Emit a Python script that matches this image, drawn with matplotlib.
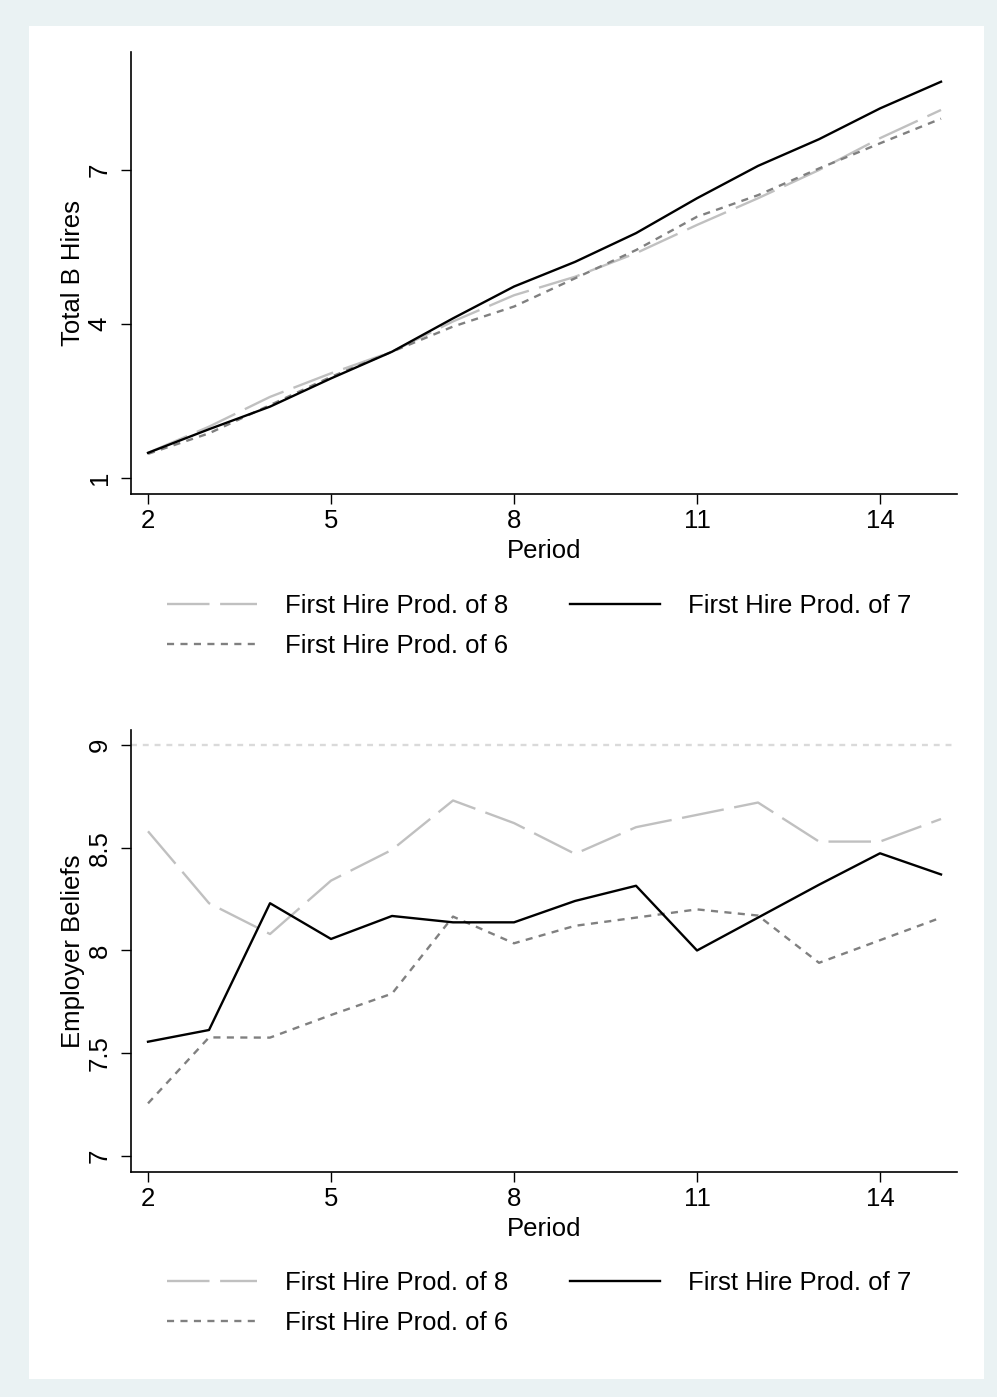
import matplotlib
matplotlib.use("Agg")
import matplotlib.pyplot as plt
from matplotlib.patches import Rectangle
from matplotlib.lines import Line2D

plt.rcParams['font.family'] = ['Liberation Sans', 'DejaVu Sans']

periods = [2, 3, 4, 5, 6, 7, 8, 9, 10, 11, 12, 13, 14, 15]

# total B hires
hires_8 = [1.49, 2.00, 2.58, 3.04, 3.46, 4.05, 4.56, 4.92, 5.38, 5.93, 6.45, 7.00, 7.62, 8.17]
hires_7 = [1.49, 1.95, 2.39, 2.94, 3.46, 4.11, 4.73, 5.21, 5.77, 6.45, 7.08, 7.60, 8.20, 8.72]
hires_6 = [1.47, 1.87, 2.42, 2.97, 3.46, 3.95, 4.34, 4.89, 5.44, 6.09, 6.51, 7.03, 7.52, 8.00]

# employer beliefs
beliefs_8 = [8.58, 8.23, 8.08, 8.34, 8.49, 8.73, 8.62, 8.47, 8.60, 8.66, 8.72, 8.53, 8.53, 8.64]
beliefs_7 = [7.556, 7.613, 8.23, 8.056, 8.168, 8.137, 8.137, 8.241, 8.315, 8.0, 8.16, 8.32, 8.473, 8.37]
beliefs_6 = [7.256, 7.577, 7.576, 7.686, 7.79, 8.165, 8.035, 8.12, 8.16, 8.20, 8.17, 7.94, 8.05, 8.16]
belief_ref = 9

labels = ["First Hire Prod. of 8", "First Hire Prod. of 7", "First Hire Prod. of 6"]
xticks = [2, 5, 8, 11, 14]

W, H = 997, 1397
fig = plt.figure(figsize=(W / 100, H / 100), dpi=100)
fig.patch.set_facecolor('#eaf2f3')
fig.patches.append(Rectangle((29 / W, 1 - 1379 / H), (984 - 29) / W, (1379 - 26) / H,
                             transform=fig.transFigure, facecolor='white',
                             edgecolor='none', zorder=-5))

lw = 1.7
sty8 = dict(color='#c0c0c0', lw=lw, dashes=(18, 4.5))
sty7 = dict(color='black', lw=lw)
sty6 = dict(color='#808080', lw=lw, dashes=(3, 2.7))
fs = 18.5


def setup(ax, ylim, yticks, yticklabels, ylabel):
    ax.set_xlim(1.721, 15.262)
    ax.set_ylim(*ylim)
    for s in ['top', 'right']:
        ax.spines[s].set_visible(False)
    for s in ['left', 'bottom']:
        ax.spines[s].set_linewidth(1.2)
    ax.set_xticks(xticks)
    ax.set_yticks(yticks)
    ax.set_yticklabels(yticklabels, rotation=90, va='center')
    ax.tick_params(length=7, width=1, labelsize=fs, pad=4)
    ax.tick_params(axis='y', pad=7)
    ax.set_xlabel("Period", fontsize=fs, labelpad=4)
    ax.set_ylabel(ylabel, fontsize=fs, labelpad=2)
    ax.set_facecolor('none')


def add_legend(y_top):
    handles = [Line2D([], [], **sty8), Line2D([], [], **sty6), Line2D([], [], **sty7)]
    leg = fig.legend(handles, [labels[0], labels[2], labels[1]], ncol=2,
                     loc='upper left', bbox_to_anchor=(167 / W, 1 - y_top / H),
                     frameon=False, fontsize=fs, handlelength=3.5,
                     handletextpad=1.1, columnspacing=2.4, labelspacing=0.62,
                     borderpad=0, borderaxespad=0)
    return leg


ax1 = fig.add_axes([131 / W, 1 - 494 / H, 826 / W, 442 / H])
ax1.plot(periods, hires_8, **sty8)
ax1.plot(periods, hires_6, **sty6)
ax1.plot(periods, hires_7, **sty7)
setup(ax1, (0.688, 9.299), [1, 4, 7], ["1", "4", "7"], "Total B Hires")
add_legend(594)

ax2 = fig.add_axes([131 / W, 1 - 1172 / H, 826 / W, 442 / H])
ax2.axhline(belief_ref, color='#dadada', lw=lw, dashes=(2.5, 2.5))
ax2.plot(periods, beliefs_8, **sty8)
ax2.plot(periods, beliefs_6, **sty6)
ax2.plot(periods, beliefs_7, **sty7)
setup(ax2, (6.922, 9.073), [7, 7.5, 8, 8.5, 9], ["7", "7.5", "8", "8.5", "9"],
      "Employer Beliefs")
add_legend(1271)

fig.savefig("out.png", dpi=100, facecolor=fig.get_facecolor())
